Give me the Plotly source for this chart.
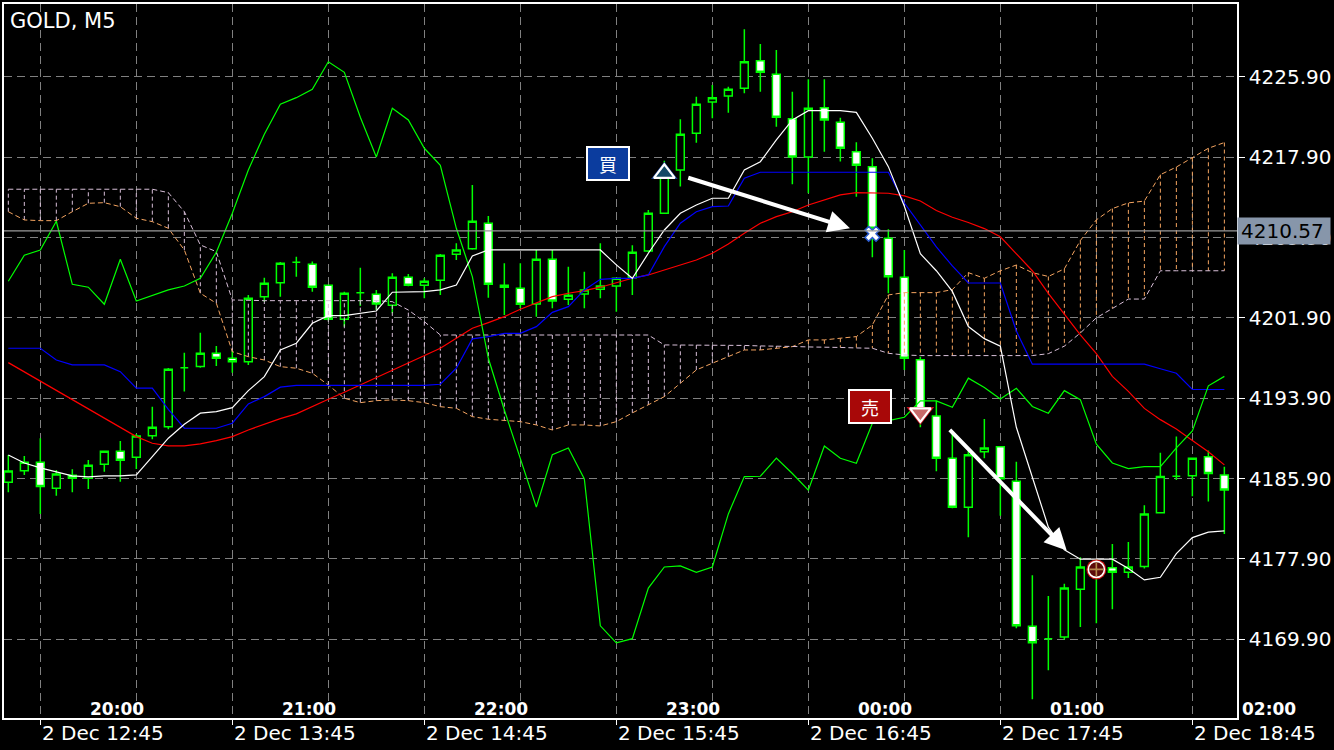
import plotly.graph_objects as go

# ---------------- data (GOLD, M5, one bar every 5 minutes, 2 Dec 12:35 .. 18:55) ----------------
bars = list(range(77))

open_ = [4185.53, 4186.69, 4187.53, 4184.94, 4186.23, 4185.93, 4187.33, 4188.62, 4188.02, 4190.17,
         4191.07, 4196.95, 4197.05, 4198.38, 4197.88, 4197.54, 4204.02, 4205.41, 4207.45, 4207.25,
         4205.15, 4201.77, 4204.42, 4204.26, 4203.16, 4205.95, 4205.15, 4205.65, 4208.24, 4208.80,
         4211.33, 4205.15, 4204.86, 4203.29, 4207.74, 4203.76, 4204.29, 4204.76, 4205.08, 4205.91,
         4208.57, 4212.33, 4216.64, 4220.29, 4223.41, 4224.01, 4224.78, 4227.52, 4226.17, 4221.75,
         4217.93, 4222.84, 4221.39, 4218.46, 4216.97, 4209.83, 4205.95, 4197.73, 4192.14, 4187.93,
         4183.05, 4188.57, 4189.06, 4185.64, 4171.19, 4169.95, 4170.11, 4174.87, 4176.80, 4177.01,
         4176.56, 4177.13, 4182.50, 4186.13, 4186.17, 4188.08, 4186.25]

high = [4188.25, 4188.15, 4189.92, 4186.76, 4186.83, 4187.75, 4188.65, 4189.65, 4190.34, 4193.06,
        4196.92, 4198.44, 4200.43, 4199.11, 4198.64, 4204.19, 4205.91, 4207.47, 4208.00, 4207.51,
        4205.23, 4204.52, 4206.91, 4204.69, 4206.35, 4206.28, 4205.85, 4208.27, 4209.34, 4215.14,
        4212.06, 4207.35, 4207.35, 4208.67, 4208.67, 4207.01, 4206.51, 4209.34, 4205.88, 4209.14,
        4212.65, 4217.56, 4221.69, 4223.94, 4225.10, 4224.93, 4230.65, 4229.19, 4228.59, 4224.44,
        4225.67, 4225.67, 4221.85, 4219.40, 4217.80, 4210.73, 4208.67, 4198.03, 4193.64, 4190.45,
        4188.65, 4191.84, 4189.15, 4187.57, 4176.26, 4174.19, 4175.43, 4178.06, 4177.89, 4179.38,
        4179.57, 4183.24, 4188.46, 4190.08, 4187.95, 4188.69, 4187.08]

low = [4184.54, 4186.26, 4182.38, 4184.20, 4184.54, 4184.87, 4186.59, 4185.59, 4186.86, 4189.82,
       4190.81, 4194.56, 4196.95, 4197.12, 4196.45, 4197.22, 4203.52, 4204.02, 4206.01, 4204.52,
       4201.65, 4201.03, 4203.09, 4202.69, 4202.37, 4205.05, 4203.86, 4204.19, 4207.67, 4208.70,
       4203.92, 4202.20, 4202.86, 4202.03, 4202.86, 4203.19, 4202.86, 4203.86, 4202.52, 4204.19,
       4208.45, 4212.26, 4214.98, 4219.36, 4221.79, 4222.35, 4224.28, 4224.44, 4220.95, 4215.21,
       4214.32, 4218.46, 4217.47, 4213.98, 4207.94, 4204.36, 4196.72, 4191.01, 4186.62, 4182.95,
       4180.06, 4187.93, 4182.19, 4171.00, 4163.91, 4166.80, 4169.88, 4171.11, 4171.49, 4172.88,
       4176.00, 4176.94, 4182.45, 4185.76, 4184.15, 4183.62, 4180.39]

close = [4186.66, 4187.53, 4185.10, 4186.36, 4185.93, 4187.23, 4188.62, 4187.72, 4190.14, 4191.01,
         4196.79, 4196.95, 4198.38, 4197.88, 4197.54, 4203.86, 4205.35, 4207.35, 4207.45, 4204.96,
         4201.77, 4204.36, 4204.42, 4203.29, 4205.95, 4205.15, 4205.55, 4208.14, 4208.67, 4211.53,
         4205.25, 4204.96, 4203.26, 4207.74, 4203.59, 4204.16, 4204.69, 4205.08, 4205.85, 4208.44,
         4212.33, 4216.64, 4220.19, 4223.18, 4223.84, 4224.68, 4227.42, 4226.37, 4221.89, 4217.93,
         4222.78, 4221.62, 4218.80, 4217.11, 4210.83, 4206.01, 4197.88, 4192.73, 4187.93, 4183.05,
         4188.27, 4188.95, 4185.87, 4171.23, 4169.54, 4169.95, 4174.99, 4177.09, 4177.20, 4176.56,
         4177.09, 4182.38, 4186.10, 4186.13, 4187.93, 4186.40, 4184.75]

tenkan = [4188.25, 4187.45, 4186.96, 4186.56, 4186.16, 4186.06, 4186.16, 4186.16, 4186.26, 4188.08,
          4189.92, 4191.31, 4192.41, 4192.56, 4192.96, 4194.66, 4196.05, 4198.71, 4199.38, 4201.37,
          4202.13, 4202.13, 4202.37, 4202.59, 4204.46, 4204.46, 4204.52, 4204.69, 4205.18, 4208.07,
          4208.67, 4208.67, 4208.67, 4208.67, 4208.67, 4208.67, 4208.67, 4208.67, 4207.18, 4205.85,
          4208.34, 4210.66, 4212.33, 4213.15, 4213.82, 4213.82, 4216.64, 4217.46, 4219.63, 4221.62,
          4222.54, 4222.54, 4222.54, 4222.38, 4219.80, 4216.97, 4213.02, 4208.29, 4206.60, 4204.54,
          4201.04, 4199.84, 4199.09, 4191.01, 4186.13, 4181.06, 4178.81, 4177.87, 4177.87, 4177.87,
          4176.94, 4175.80, 4176.07, 4178.43, 4180.02, 4180.57, 4180.68]

kijun = [4198.88, 4198.88, 4198.88, 4197.71, 4197.22, 4197.22, 4197.22, 4196.55, 4194.90, 4194.90,
         4192.80, 4190.91, 4190.91, 4190.91, 4191.41, 4193.33, 4194.06, 4195.00, 4195.19, 4195.19,
         4195.19, 4195.19, 4195.19, 4195.19, 4195.19, 4195.19, 4195.19, 4195.29, 4196.89, 4199.81,
         4200.04, 4200.37, 4200.37, 4201.03, 4202.46, 4203.02, 4204.69, 4205.75, 4205.85, 4205.85,
         4206.18, 4209.00, 4211.33, 4212.48, 4212.98, 4213.05, 4215.81, 4216.41, 4216.41, 4216.41,
         4216.41, 4216.41, 4216.41, 4216.41, 4216.41, 4216.41, 4213.35, 4211.16, 4208.97, 4207.08,
         4205.38, 4205.38, 4205.38, 4200.60, 4197.29, 4197.29, 4197.29, 4197.29, 4197.29, 4197.29,
         4197.29, 4197.29, 4196.84, 4196.39, 4194.77, 4194.77, 4194.77]

moving_avg = [4197.45, 4196.52, 4195.62, 4194.70, 4193.76, 4192.83, 4191.91, 4190.97, 4190.08, 4189.42,
              4189.15, 4189.15, 4189.35, 4189.68, 4190.08, 4190.74, 4191.34, 4191.87, 4192.34, 4193.03,
              4193.80, 4194.50, 4195.22, 4195.95, 4196.65, 4197.39, 4198.11, 4198.88, 4199.88, 4200.87,
              4201.43, 4202.03, 4202.76, 4203.42, 4204.02, 4204.36, 4204.62, 4204.96, 4205.38, 4205.85,
              4206.18, 4206.68, 4207.18, 4207.67, 4208.34, 4209.27, 4210.33, 4211.33, 4211.99, 4212.48,
              4213.15, 4213.65, 4214.15, 4214.38, 4214.32, 4214.32, 4214.05, 4213.55, 4212.60, 4211.93,
              4211.41, 4210.80, 4209.98, 4208.29, 4206.60, 4204.35, 4202.28, 4200.21, 4198.34, 4196.08,
              4194.59, 4192.89, 4191.77, 4190.83, 4189.70, 4188.57, 4187.26]

chikou = [4205.55, 4208.14, 4208.67, 4211.53, 4205.25, 4204.96, 4203.26, 4207.74, 4203.59, 4204.16,
          4204.69, 4205.08, 4205.85, 4208.44, 4212.33, 4216.64, 4220.19, 4223.18, 4223.84, 4224.68,
          4227.42, 4226.37, 4221.89, 4217.93, 4222.78, 4221.62, 4218.80, 4217.11, 4210.83, 4206.01,
          4197.88, 4192.73, 4187.93, 4183.05, 4188.27, 4188.95, 4185.87, 4171.23, 4169.54, 4169.95,
          4174.99, 4177.09, 4177.20, 4176.56, 4177.09, 4182.38, 4186.10, 4186.13, 4187.93, 4186.40,
          4184.75, 4189.15, 4187.92, 4187.43, 4191.41, 4191.67, 4192.01, 4193.64, 4193.64, 4193.00,
          4195.90, 4194.96, 4193.83, 4194.89, 4193.08, 4192.41, 4194.66, 4193.76, 4189.33, 4187.45,
          4186.89, 4187.08, 4187.08, 4188.95, 4190.64, 4195.14, 4196.08]

span_a = [4212.48, 4211.66, 4211.59, 4211.59, 4212.48, 4213.32, 4213.38, 4212.98, 4211.83, 4211.49,
          4210.83, 4208.67, 4204.36, 4203.36, 4198.54, 4198.04, 4197.71, 4197.05, 4196.89, 4196.39,
          4195.22, 4193.90, 4193.46, 4193.66, 4193.73, 4193.66, 4193.46, 4193.06, 4192.90, 4192.07,
          4191.81, 4191.67, 4191.57, 4191.24, 4190.74, 4191.24, 4191.24, 4191.14, 4191.57, 4192.44,
          4193.23, 4194.06, 4195.39, 4196.72, 4197.39, 4198.04, 4198.71, 4198.71, 4198.88, 4199.04,
          4199.71, 4199.71, 4199.88, 4200.04, 4201.20, 4204.19, 4204.42, 4204.42, 4204.42, 4204.72,
          4206.41, 4205.85, 4206.60, 4207.17, 4206.41, 4206.03, 4206.79, 4209.61, 4211.67, 4212.79,
          4213.36, 4213.54, 4216.17, 4216.93, 4217.86, 4218.80, 4219.37]

span_b = [4214.72, 4214.72, 4214.72, 4214.72, 4214.72, 4214.72, 4214.72, 4214.72, 4214.72, 4214.72,
          4214.38, 4212.48, 4209.17, 4208.50, 4203.69, 4203.62, 4203.62, 4203.62, 4203.62, 4203.62,
          4203.62, 4203.62, 4203.62, 4203.62, 4203.52, 4202.69, 4201.53, 4200.20, 4200.20, 4200.20,
          4200.20, 4200.20, 4200.20, 4200.20, 4200.20, 4200.20, 4200.20, 4200.20, 4200.20, 4200.20,
          4200.20, 4199.21, 4199.21, 4199.21, 4199.16, 4199.16, 4199.16, 4199.11, 4199.11, 4199.06,
          4199.01, 4199.01, 4198.96, 4198.91, 4198.88, 4198.38, 4198.21, 4198.15, 4198.15, 4198.15,
          4198.15, 4198.15, 4198.15, 4198.15, 4198.15, 4198.34, 4199.09, 4200.40, 4201.91, 4202.84,
          4203.78, 4203.78, 4206.60, 4206.60, 4206.60, 4206.60, 4206.60]

price_ticks = [4169.90, 4177.90, 4185.90, 4193.90, 4201.90, 4209.90, 4217.90, 4225.90]
grid_bars = [2, 8, 14, 20, 26, 32, 38, 44, 50, 56, 62, 68, 74]
hour_bars = [2, 14, 26, 38, 50, 62, 74]
hour_labels = ["2 Dec 12:45", "2 Dec 13:45", "2 Dec 14:45", "2 Dec 15:45",
               "2 Dec 16:45", "2 Dec 17:45", "2 Dec 18:45"]
local_bars = [5, 17, 29, 41, 53, 65, 77]
local_labels = ["20:00", "21:00", "22:00", "23:00", "00:00", "01:00", "02:00"]
current_price = 4210.57

# trades: entry marker, exit marker, arrow (tail -> head), label box
buy_entry = (41, 4216.30)
buy_exit = (54, 4210.28)
buy_arrow = (42.4, 4215.91, 52.6, 4210.83)
buy_label = (37.5, 4217.33)
sell_entry = (57, 4192.44)
sell_exit = (68, 4176.85)
sell_arrow = (58.75, 4190.90, 66.15, 4178.74)
sell_label = (53.86, 4193.08)

X_RANGE = [-0.27, 76.79]
Y_RANGE = [4162.05, 4233.17]

FONT = "DejaVu Sans"
GRID = "#808080"

fig = go.Figure()

# candles
fig.add_trace(go.Candlestick(
    x=bars, open=open_, high=high, low=low, close=close,
    increasing=dict(line=dict(color="#00ff00", width=1.5), fillcolor="#000000"),
    decreasing=dict(line=dict(color="#00ff00", width=1.5), fillcolor="#ffffff"),
    whiskerwidth=0, hoverinfo="skip", showlegend=False))

# Ichimoku cloud hatching
up_x, up_y, dn_x, dn_y = [], [], [], []
for i, (a, b) in enumerate(zip(span_a, span_b)):
    if a >= b:
        up_x += [i, i, None]
        up_y += [a, b, None]
    else:
        dn_x += [i, i, None]
        dn_y += [a, b, None]
fig.add_trace(go.Scatter(x=dn_x, y=dn_y, mode="lines", hoverinfo="skip", showlegend=False,
                         line=dict(color="#d8bfd8", width=1, dash="4px,3px")))
fig.add_trace(go.Scatter(x=up_x, y=up_y, mode="lines", hoverinfo="skip", showlegend=False,
                         line=dict(color="#f4a460", width=1, dash="4px,3px")))
fig.add_trace(go.Scatter(x=bars, y=span_a, mode="lines", hoverinfo="skip", showlegend=False,
                         line=dict(color="#f4a460", width=1, dash="5px,3px")))
fig.add_trace(go.Scatter(x=bars, y=span_b, mode="lines", hoverinfo="skip", showlegend=False,
                         line=dict(color="#d8bfd8", width=1, dash="5px,3px")))

# indicator lines
for series, color in [(moving_avg, "#ff0000"), (kijun, "#0000ff"),
                      (chikou, "#00ff00"), (tenkan, "#ffffff")]:
    fig.add_trace(go.Scatter(x=bars, y=series, mode="lines", hoverinfo="skip",
                             showlegend=False, line=dict(color=color, width=1.2)))

# trade markers
def mk(pt, **marker):
    fig.add_trace(go.Scatter(x=[pt[0]], y=[pt[1]], mode="markers", hoverinfo="skip",
                             showlegend=False, marker=marker))

mk(buy_entry, symbol="triangle-up", size=23, color="#1a3f8f")
mk(buy_entry, symbol="triangle-up", size=18, color="rgba(20,75,95,0.85)",
   line=dict(color="#ffffff", width=2.2))
mk(buy_exit, symbol="x", size=13, color="#ffffff", line=dict(color="#2a5bd0", width=1.5))
mk(sell_entry, symbol="triangle-down", size=24, color="#c4101c")
mk(sell_entry, symbol="triangle-down", size=18, color="#c86a6a",
   line=dict(color="#ffffff", width=2.2))
mk(sell_exit, symbol="circle", size=20, color="#c81414")
mk(sell_exit, symbol="circle", size=16, color="#5c0a0a", line=dict(color="#ffffff", width=1.6))
mk(sell_exit, symbol="cross-thin", size=10, line=dict(color="#b4884c", width=1.6))

annotations = []
for ax_, ay_, hx, hy in [buy_arrow, sell_arrow]:
    annotations.append(dict(x=hx, y=hy, ax=ax_, ay=ay_, xref="x", yref="y", axref="x", ayref="y",
                            text="", showarrow=True, arrowhead=2, arrowsize=1.1,
                            arrowwidth=4, arrowcolor="#ffffff"))

for pos, txt, bg in [(buy_label, "買", "#0b3c9e"), (sell_label, "売", "#a80808")]:
    annotations.append(dict(x=pos[0], y=pos[1], xref="x", yref="y", text=txt, showarrow=False,
                            font=dict(family="Noto Sans CJK JP", size=18, color="#ffffff"),
                            bgcolor=bg, bordercolor="#ffffff", borderwidth=2, borderpad=2,
                            width=36, height=27))

# bottom time labels
for b, t in zip(hour_bars, hour_labels):
    annotations.append(dict(x=b, y=-0.021, xref="x", yref="paper", text=t, showarrow=False,
                            xanchor="left", yanchor="middle",
                            font=dict(family=FONT, size=20, color="#ffffff")))
for b, t in zip(local_bars, local_labels):
    if b <= X_RANGE[1]:
        xr, xv = "x", b
    else:
        xr, xv = "paper", (b - X_RANGE[0]) / (X_RANGE[1] - X_RANGE[0])
    annotations.append(dict(x=xv, y=0.0126, xref=xr, yref="paper", text=t, showarrow=False,
                            xanchor="left", yanchor="middle",
                            font=dict(family="DejaVu Sans", size=17, color="#ffffff",
                                      weight="bold")))

# title
annotations.append(dict(x=0.0035, y=0.976, xref="paper", yref="paper", text="GOLD, M5",
                        showarrow=False, xanchor="left", yanchor="middle",
                        font=dict(family=FONT, size=21, color="#ffffff")))

# current price label
annotations.append(dict(x=1.0, y=current_price, xref="paper", yref="y",
                        text=f"{current_price:.2f}", showarrow=False, xanchor="left",
                        yanchor="middle", align="left", width=86, height=20, borderpad=3,
                        bgcolor="#8796aa", font=dict(family=FONT, size=20, color="#000000")))

fig.update_layout(
    width=1334, height=750,
    margin=dict(l=4, r=97, t=4, b=32, autoexpand=False),
    paper_bgcolor="#000000", plot_bgcolor="#000000",
    showlegend=False,
    annotations=annotations,
    shapes=[dict(type="line", xref="paper", yref="y", x0=0, x1=1,
                 y0=current_price, y1=current_price,
                 line=dict(color="#9a9a9a", width=1.2), layer="above")],
    xaxis=dict(range=X_RANGE, rangeslider=dict(visible=False), showticklabels=False,
               tickmode="array", tickvals=hour_bars, ticks="outside", ticklen=5,
               tickcolor="#ffffff", showgrid=True, gridcolor=GRID, griddash="8px,5px",
               gridwidth=1, automargin=False,
               minor=dict(tickmode="array", tickvals=grid_bars, showgrid=True,
                          gridcolor=GRID, griddash="8px,5px", ticks=""),
               zeroline=False, showline=True, mirror=True, linecolor="#ffffff", linewidth=1.5),
    yaxis=dict(range=Y_RANGE, side="right", tickmode="array", tickvals=price_ticks,
               ticktext=[f"{p:.2f}" for p in price_ticks], ticks="outside", ticklen=6,
               tickcolor="#ffffff", tickfont=dict(family=FONT, size=20, color="#ffffff"),
               showgrid=True, gridcolor=GRID, griddash="8px,5px", gridwidth=1, automargin=False,
               zeroline=False, showline=True, mirror=True, linecolor="#ffffff", linewidth=1.5),
)

fig.write_html("out.html", config={"displayModeBar": False},
               post_script="document.body.style.margin='0';document.body.style.overflow='hidden';")
